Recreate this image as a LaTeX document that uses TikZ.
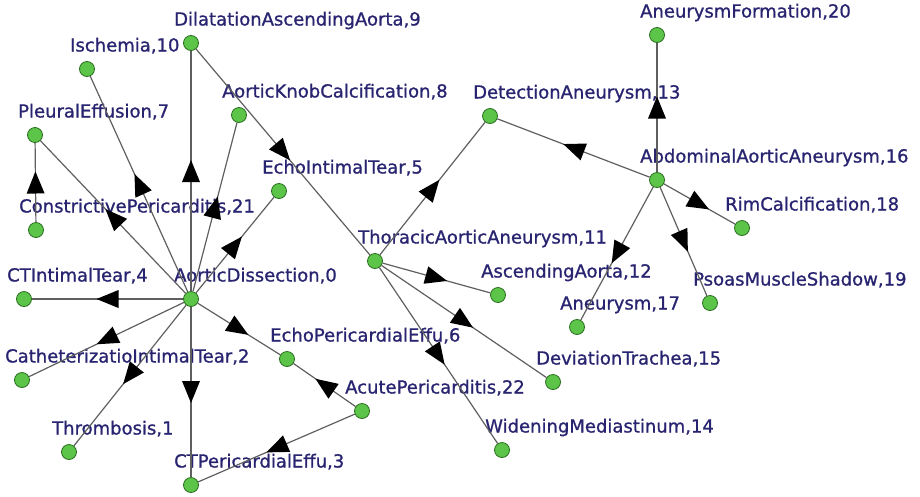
\documentclass[tikz,border=0pt]{standalone}
\usepackage{fontspec}
\setmainfont{DejaVu Sans}
\newfontfamily\lblfont[FakeBold=1]{DejaVu Sans}
\usetikzlibrary{decorations.markings}
\definecolor{vgreen}{RGB}{92,196,72}
\definecolor{vrim}{RGB}{40,110,30}
\definecolor{lblue}{RGB}{40,36,112}
\definecolor{egray}{RGB}{95,95,95}
\begin{document}
\begin{tikzpicture}[x=1pt,y=-1pt,
  vert/.style={circle,fill=vgreen,draw=vrim,line width=0.8pt,minimum size=15pt,inner sep=0pt},
  lbl/.style={anchor=base west,inner sep=0pt,xshift=-17pt,yshift=17.5pt,text=lblue,font=\lblfont\fontsize{18}{20}\selectfont},
  link/.style={draw=egray,line width=1.2pt,postaction={decorate},
    decoration={markings,mark=at position 0.5 with {\fill[black] (11pt,0pt) -- (-11pt,9pt) -- (-11pt,-9pt) -- cycle;}}}]
\useasboundingbox (0,0) rectangle (920,496);
% left cluster
\node[vert] (ad) at (191,299) {};      \node[lbl] (adl) at (ad) {AorticDissection,0};
\node[vert] (thromb) at (69,452) {};   \node[lbl] (thrombl) at (thromb) {Thrombosis,1};
\node[vert] (cath) at (22,380) {};     \node[lbl] (cathl) at (cath) {CatheterizatioIntimalTear,2};
\node[vert] (ctpe) at (191,485) {};    \node[lbl] (ctpel) at (ctpe) {CTPericardialEffu,3};
\node[vert] (ctit) at (24,299) {};     \node[lbl] (ctitl) at (ctit) {CTIntimalTear,4};
\node[vert] (echoit) at (279,191) {};  \node[lbl] (echoitl) at (echoit) {EchoIntimalTear,5};
\node[vert] (echope) at (287,359) {};  \node[lbl] (echopel) at (echope) {EchoPericardialEffu,6};
\node[vert] (pleural) at (35,135) {};  \node[lbl] (pleurall) at (pleural) {PleuralEffusion,7};
\node[vert] (knob) at (239,115) {};    \node[lbl] (knobl) at (knob) {AorticKnobCalcification,8};
\node[vert] (dilat) at (191,43) {};    \node[lbl] (dilatl) at (dilat) {DilatationAscendingAorta,9};
\node[vert] (isch) at (87,69) {};      \node[lbl] (ischl) at (isch) {Ischemia,10};
\node[vert] (constr) at (36,230) {};   \node[lbl] (constrl) at (constr) {ConstrictivePericarditis,21};
\node[vert] (acute) at (362,411) {};   \node[lbl] (acutel) at (acute) {AcutePericarditis,22};
% right cluster
\node[vert] (taa) at (375,261) {};     \node[lbl] (taal) at (taa) {ThoracicAorticAneurysm,11};
\node[vert] (asc) at (498,295) {};     \node[lbl] (ascl) at (asc) {AscendingAorta,12};
\node[vert] (detect) at (490,116) {};  \node[lbl] (detectl) at (detect) {DetectionAneurysm,13};
\node[vert] (widen) at (502,450) {};   \node[lbl] (widenl) at (widen) {WideningMediastinum,14};
\node[vert] (devtr) at (553,382) {};   \node[lbl] (devtrl) at (devtr) {DeviationTrachea,15};
\node[vert] (aaa) at (657,180) {};     \node[lbl] (aaal) at (aaa) {AbdominalAorticAneurysm,16};
\node[vert] (aneur) at (577,327) {};   \node[lbl] (aneurl) at (aneur) {Aneurysm,17};
\node[vert] (rim) at (742,228) {};     \node[lbl] (riml) at (rim) {RimCalcification,18};
\node[vert] (psoas) at (710,303) {};   \node[lbl] (psoasl) at (psoas) {PsoasMuscleShadow,19};
\node[vert] (aform) at (657,35) {};    \node[lbl] (aforml) at (aform) {AneurysmFormation,20};
% arcs
\draw[link] (ad) -- (ctit);
\draw[link] (ad) -- (cath);
\draw[link] (ad) -- (thromb);
\draw[link] (ad) -- (ctpe);
\draw[link] (ad) -- (echope);
\draw[link] (ad) -- (dilat);
\draw[link] (ad) -- (isch);
\draw[link] (ad) -- (pleural);
\draw[link] (ad) -- (knob);
\draw[link] (ad) -- (echoit);
\draw[link] (constr) -- (pleural);
\draw[link] (acute) -- (echope);
\draw[link] (acute) -- (ctpe);
\draw[link] (dilat) -- (taa);
\draw[link] (taa) -- (detect);
\draw[link] (taa) -- (asc);
\draw[link] (taa) -- (devtr);
\draw[link] (taa) -- (widen);
\draw[link] (aaa) -- (detect);
\draw[link] (aaa) -- (aform);
\draw[link] (aaa) -- (rim);
\draw[link] (aaa) -- (aneur);
\draw[link] (aaa) -- (psoas);
\end{tikzpicture}
\end{document}
